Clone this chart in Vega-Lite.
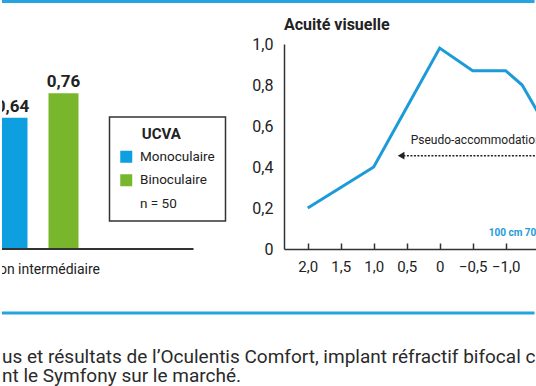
{
  "$schema": "https://vega.github.io/schema/vega-lite/v6.json",
  "padding": 0,
  "autosize": {"type": "pad"},
  "bounds": "flush",
  "spacing": 90,
  "config": {
    "view": {"stroke": null},
    "font": "Roboto",
    "locale": {"number": {"decimal": ",", "thousands": "\u00a0", "grouping": [3], "currency": ["", "\u00a0€"]}},
    "legend": {"strokeWidth": 1.5}
  },
  "hconcat": [
    {
      "width": 191.5,
      "height": 240,
      "layer": [
        {
          "data": {"values": [
            {"vision": "Vision intermédiaire", "correction": "Monoculaire", "ucva": 0.64},
            {"vision": "Vision intermédiaire", "correction": "Binoculaire", "ucva": 0.76}
          ]},
          "layer": [
            {
              "mark": {"type": "bar", "clip": true},
              "encoding": {
                "x": {"field": "vision", "type": "nominal", "axis": null, "scale": {"range": [-15, 87], "paddingInner": 0, "paddingOuter": 0}},
                "xOffset": {"field": "correction", "type": "nominal", "scale": {"domain": ["Monoculaire", "Binoculaire"], "paddingInner": 0.41176, "paddingOuter": 0.20588}},
                "y": {"field": "ucva", "type": "quantitative", "axis": null, "scale": {"domain": [0, 1], "range": [205, 0]}},
                "color": {
                  "field": "correction", "type": "nominal",
                  "scale": {"domain": ["Monoculaire", "Binoculaire", "n = 50"], "range": ["#0e9fe0", "#78b72b", "transparent"]},
                  "legend": {
                    "orient": "none", "legendX": 107.5, "legendY": 73,
                    "title": "\u200b\u00a0\u00a0\u00a0\u00a0\u00a0\u00a0UCVA",
                    "titleFontSize": 15, "titleFontWeight": "bold", "titleColor": "#222", "titlePadding": 8,
                    "labelFontSize": 13.5, "labelColor": "#222", "labelOffset": 7, "labelLimit": 200,
                    "symbolType": "square", "symbolSize": 144, "symbolStrokeWidth": 0,
                    "rowPadding": 8.5, "padding": 10, "strokeColor": "#333", "fillColor": "#ffffff"
                  }
                }
              }
            },
            {
              "mark": {"type": "text", "clip": true, "dy": -6, "baseline": "alphabetic", "fontSize": 17, "fontWeight": "bold", "color": "#222"},
              "encoding": {
                "x": {"field": "vision", "type": "nominal"},
                "xOffset": {"field": "correction", "type": "nominal"},
                "y": {"field": "ucva", "type": "quantitative"},
                "text": {"field": "ucva", "type": "quantitative", "format": ".2f"}
              }
            }
          ]
        },
        {
          "data": {"values": [{"vision": "Vision intermédiaire"}]},
          "mark": {"type": "text", "clip": true, "fontSize": 14, "baseline": "middle", "color": "#222"},
          "encoding": {
            "x": {"field": "vision", "type": "nominal"},
            "y": {"datum": -0.1, "type": "quantitative"},
            "text": {"field": "vision"}
          }
        },
        {
          "data": {"values": [{}]},
          "mark": {"type": "rule", "color": "#333", "strokeWidth": 2},
          "encoding": {"y": {"datum": 0, "type": "quantitative"}}
        },
        {
          "data": {"values": [{}]},
          "mark": {"type": "rule", "color": "#27a3dd", "strokeWidth": 3},
          "encoding": {"x": {"value": 0}, "x2": {"value": 532.5}, "y": {"value": -42.5}}
        },
        {
          "data": {"values": [{}]},
          "mark": {"type": "rule", "color": "#27a3dd", "strokeWidth": 3},
          "encoding": {"x": {"value": 0}, "x2": {"value": 532.5}, "y": {"value": 269}}
        },
        {
          "data": {"values": [{"legende": "us et résultats de l’Oculentis Comfort, implant réfractif bifocal commercialisé\nnt le Symfony sur le marché."}]},
          "mark": {"type": "text", "align": "left", "baseline": "alphabetic", "font": "Roboto", "fontSize": 19, "lineBreak": "\n", "lineHeight": 18.5, "limit": 534, "ellipsis": "\u200b", "color": "#2a2a2a"},
          "encoding": {"x": {"value": 0}, "y": {"value": 319}, "text": {"field": "legende"}}
        }
      ]
    },
    {
      "width": 252,
      "height": 205,
      "title": {"text": "Acuité visuelle", "anchor": "start", "frame": "group", "fontSize": 16, "fontWeight": "bold", "color": "#222", "offset": 3},
      "layer": [
        {
          "data": {"values": [
            {"dioptrie": 2.0, "acuite": 0.20},
            {"dioptrie": 1.5, "acuite": 0.30},
            {"dioptrie": 1.0, "acuite": 0.40},
            {"dioptrie": 0.5, "acuite": 0.69},
            {"dioptrie": 0.0, "acuite": 0.98},
            {"dioptrie": -0.5, "acuite": 0.87},
            {"dioptrie": -1.0, "acuite": 0.87},
            {"dioptrie": -1.25, "acuite": 0.80},
            {"dioptrie": -1.5, "acuite": 0.66}
          ]},
          "mark": {"type": "line", "color": "#1d9bd8", "strokeWidth": 3, "clip": true},
          "encoding": {
            "x": {
              "field": "dioptrie", "type": "quantitative",
              "scale": {"domain": [2.36, -1.46], "nice": false, "zero": false},
              "axis": {
                "values": [2, 1.5, 1, 0.5, 0, -0.5, -1, -1.5],
                "labelExpr": "datum.value == 0 ? '0' : replace(format(datum.value, '.1f'), '.', ',')",
                "title": null, "grid": false,
                "tickSize": -6, "tickWidth": 1.5, "tickColor": "#333",
                "domainColor": "#333", "domainWidth": 1.5,
                "labelPadding": 16, "labelFontSize": 15, "labelColor": "#222",
                "labelFlush": false, "labelOverlap": false
              }
            },
            "y": {
              "field": "acuite", "type": "quantitative",
              "scale": {"domain": [0, 1], "nice": false},
              "axis": {
                "values": [0, 0.2, 0.4, 0.6, 0.8, 1.0],
                "labelExpr": "datum.value == 0 ? '0' : replace(format(datum.value, '.1f'), '.', ',')",
                "title": null, "grid": false, "ticks": false,
                "domainColor": "#333", "domainWidth": 1.5,
                "labelPadding": 11, "labelFontSize": 16, "labelColor": "#222"
              }
            }
          }
        },
        {
          "data": {"values": [{"texte": "Pseudo-accommodation"}]},
          "mark": {"type": "text", "align": "left", "baseline": "middle", "fontSize": 12, "color": "#222", "clip": true},
          "encoding": {"x": {"datum": 0.44}, "y": {"datum": 0.53}, "text": {"field": "texte"}}
        },
        {
          "data": {"values": [{}]},
          "mark": {"type": "rule", "strokeDash": [2, 1.5], "strokeWidth": 1.5, "color": "#222", "clip": true},
          "encoding": {"x": {"datum": 0.55}, "x2": {"datum": -1.6}, "y": {"datum": 0.455}}
        },
        {
          "data": {"values": [{}]},
          "mark": {"type": "point", "shape": "triangle-left", "filled": true, "size": 60, "color": "#222", "opacity": 1},
          "encoding": {"x": {"datum": 0.585}, "y": {"datum": 0.455}}
        },
        {
          "data": {"values": [{"dioptrie": -1.0, "distance": "100 cm"}, {"dioptrie": -1.5, "distance": "70 cm"}]},
          "mark": {"type": "text", "fontSize": 10, "fontWeight": "bold", "color": "#1d9bd8", "baseline": "middle", "clip": true},
          "encoding": {"x": {"field": "dioptrie", "type": "quantitative"}, "y": {"datum": 0.078}, "text": {"field": "distance"}}
        }
      ]
    }
  ]
}
